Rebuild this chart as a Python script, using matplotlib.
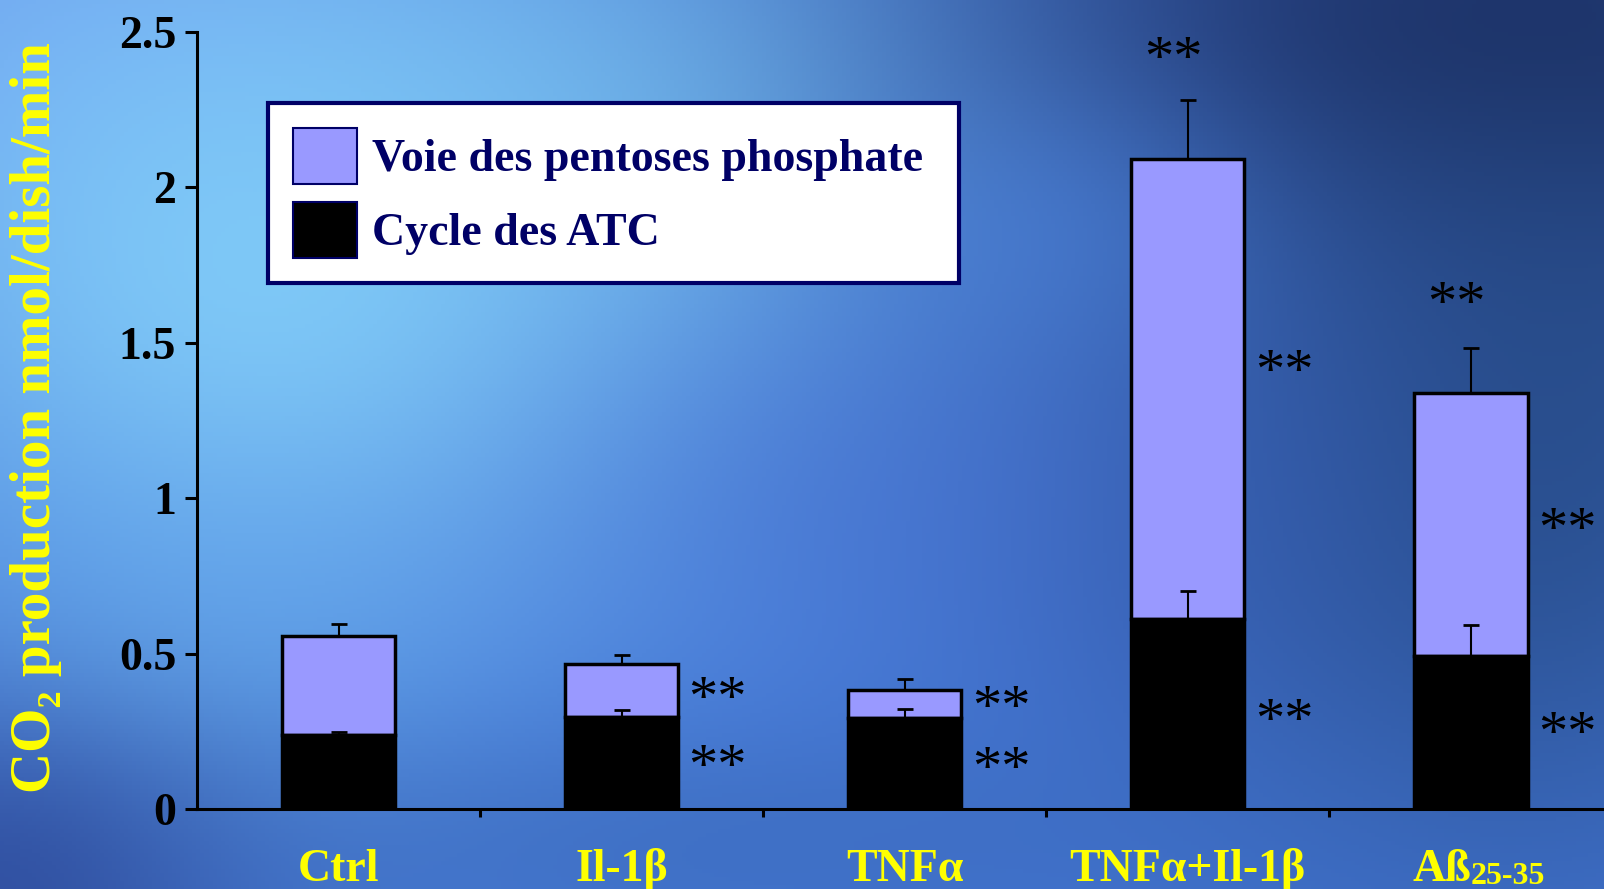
import numpy as np
import matplotlib.pyplot as plt
from matplotlib.patches import Patch

# ── Données ───────────────────────────────────────────────────────────────
categories = ['Ctrl', 'Il-1β', 'TNFα', 'TNFα+Il-1β', 'Aß']
atc = [0.237, 0.296, 0.293, 0.612, 0.493]          # Cycle des ATC (noir)
atc_err = [0.012, 0.022, 0.028, 0.088, 0.098]
total = [0.556, 0.467, 0.382, 2.092, 1.339]        # haut de la barre empilee
total_err = [0.040, 0.027, 0.036, 0.190, 0.145]
pentose = [t - a for t, a in zip(total, atc)]      # Voie des pentoses phosphate

# significativite ** (None = pas d'etoiles), hauteur
star_pent_y = [None, 0.388, 0.359, 1.441, 0.931]
star_atc_y = [None, 0.168, 0.164, 0.316, 0.276]
star_top_y = [None, None, None, 2.447, 1.658]

YTICKS = [0, 0.5, 1, 1.5, 2, 2.5]
YTICK_LABELS = ['0', '0.5', '1', '1.5', '2', '2.5']

C_PENT = '#9999ff'
C_NAVY = '#000066'
C_YEL = '#ffff00'
SERIF = ['Liberation Serif', 'DejaVu Serif']

W, H = 1604, 889
fig = plt.figure(figsize=(W / 100, H / 100), dpi=100)

# ── Fond bleu nuageux (decor) ─────────────────────────────────────────────
bg = fig.add_axes([0, 0, 1, 1])
bg.set_axis_off()
gx, gy = np.meshgrid(np.linspace(0, 1, 400), np.linspace(0, 1, 222))
img = np.ones((222, 400, 3)) * np.array([0.27, 0.47, 0.85])
blobs = [  # (x, y depuis le haut, sx, sy, couleur, force)
    (0.00, 0.00, 0.25, 0.25, (0.45, 0.62, 0.95), 0.8),
    (0.18, 0.30, 0.22, 0.30, (0.52, 0.82, 0.98), 0.9),
    (0.40, 0.15, 0.18, 0.18, (0.48, 0.78, 0.97), 0.6),
    (0.12, 0.75, 0.12, 0.15, (0.42, 0.70, 0.95), 0.5),
    (0.95, 0.05, 0.25, 0.25, (0.10, 0.16, 0.36), 0.95),
    (0.95, 0.50, 0.15, 0.35, (0.14, 0.28, 0.50), 0.8),
    (0.75, 0.55, 0.12, 0.20, (0.18, 0.32, 0.62), 0.5),
    (0.00, 1.00, 0.12, 0.15, (0.17, 0.27, 0.58), 0.8),
    (0.55, 0.55, 0.15, 0.15, (0.28, 0.45, 0.82), 0.5),
    (0.45, 0.95, 0.25, 0.10, (0.22, 0.40, 0.70), 0.5),
    (0.65, 0.25, 0.10, 0.12, (0.30, 0.52, 0.88), 0.5),
]
for bx, by, sx, sy, col, s in blobs:
    w = s * np.exp(-((gx - bx) ** 2 / (2 * sx ** 2) + (gy - by) ** 2 / (2 * sy ** 2)))
    img = img * (1 - w[..., None]) + np.array(col) * w[..., None]
bg.imshow(img, aspect='auto', extent=[0, 1, 0, 1], origin='upper')

# ── Graphique ─────────────────────────────────────────────────────────────
ax = fig.add_axes([197 / W, 80 / H, 1 - 197 / W, 777 / H])
ax.patch.set_alpha(0)
x = np.arange(len(categories))
bw = 0.40

ax.bar(x, atc, bw, color='black', edgecolor='black', linewidth=2.5, zorder=3)
ax.bar(x, pentose, bw, bottom=atc, color=C_PENT, edgecolor='black',
       linewidth=2.5, zorder=2)
ax.errorbar(x, total, yerr=[np.zeros(len(x)), total_err], fmt='none',
            ecolor='black', elinewidth=1.5, capsize=6, capthick=2, zorder=1)
ax.errorbar(x, atc, yerr=[np.zeros(len(x)), atc_err], fmt='none',
            ecolor='black', elinewidth=1.5, capsize=6, capthick=2, zorder=4)

# les asterisques sont hauts dans la police : on les descend un peu
STAR_FS = 42
for i in range(len(x)):
    for dx, ys in [(0.34, star_pent_y), (0.34, star_atc_y), (-0.05, star_top_y)]:
        if ys[i] is not None:
            ax.annotate('**', xy=(x[i] + dx, ys[i]), xytext=(0, -9),
                        textcoords='offset points', ha='center', va='center',
                        fontsize=STAR_FS, family=SERIF)

ax.set_xlim(-0.5, 4.47)
ax.set_ylim(0, 2.5)
ax.set_yticks(YTICKS)
ax.set_yticklabels(YTICK_LABELS, fontsize=33, fontweight='bold', family=SERIF)
ax.set_xticks(x[:-1] + 0.5)
ax.set_xticklabels([])
for i, lab in enumerate(categories):
    last = i == len(categories) - 1
    ax.annotate(lab, xy=(x[i], 0), xycoords=('data', 'axes fraction'),
                xytext=(0, -52), textcoords='offset points',
                ha='right' if last else 'center', va='baseline',
                fontsize=33, fontweight='bold', color=C_YEL, family=SERIF)
# indice de Aß25-35
ax.annotate('25-35', xy=(x[-1], 0), xycoords=('data', 'axes fraction'),
            xytext=(0, -54), textcoords='offset points', ha='left',
            va='baseline', fontsize=23, fontweight='bold', color=C_YEL,
            family=SERIF)

for side in ['top', 'right']:
    ax.spines[side].set_visible(False)
for side in ['left', 'bottom']:
    ax.spines[side].set_linewidth(2.2)
ax.tick_params(axis='y', length=9, width=2.2, pad=6)
ax.tick_params(axis='x', length=6, width=2.2)

fig.text(36 / W, 0.530, 'CO₂ production nmol/dish/min', rotation=90,
         ha='center', va='center', fontsize=41, fontweight='bold',
         color=C_YEL, family=SERIF)

handles = [Patch(facecolor=C_PENT, edgecolor=C_NAVY, linewidth=1.5),
           Patch(facecolor='black', edgecolor=C_NAVY, linewidth=1.5)]
leg = ax.legend(handles, ['Voie des pentoses phosphate ', 'Cycle des ATC'],
                loc='upper left', bbox_to_anchor=(0.0505, 0.909),
                prop={'family': SERIF, 'size': 33, 'weight': 'bold'},
                frameon=True, fancybox=False, framealpha=1,
                handlelength=1.38, handleheight=1.5, borderpad=0.55,
                labelspacing=0.4, handletextpad=0.33, borderaxespad=0)
leg.get_frame().set_edgecolor(C_NAVY)
leg.get_frame().set_linewidth(3)
for txt in leg.get_texts():
    txt.set_color(C_NAVY)

fig.savefig('out.png', dpi=100)
